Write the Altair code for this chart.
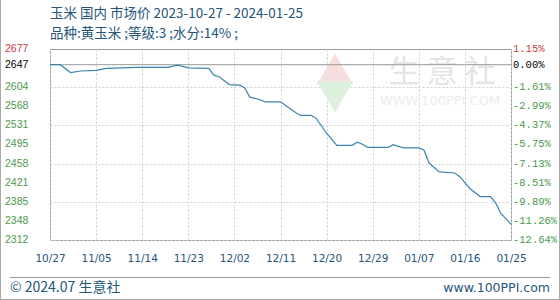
import altair as alt
import pandas as pd

# ---------------- data ----------------
dates = ["2023-10-27", "2023-10-29", "2023-10-31", "2023-11-02", "2023-11-05",
         "2023-11-07", "2023-11-13", "2023-11-19", "2023-11-21", "2023-11-23",
         "2023-11-27", "2023-11-28", "2023-11-29", "2023-12-01", "2023-12-03",
         "2023-12-04", "2023-12-05", "2023-12-07", "2023-12-08", "2023-12-11",
         "2023-12-12", "2023-12-14", "2023-12-15", "2023-12-17", "2023-12-18",
         "2023-12-20", "2023-12-22", "2023-12-25", "2023-12-26", "2023-12-27",
         "2023-12-28", "2024-01-01", "2024-01-02", "2024-01-04", "2024-01-07",
         "2024-01-08", "2024-01-09", "2024-01-11", "2024-01-14", "2024-01-15",
         "2024-01-17", "2024-01-19", "2024-01-21", "2024-01-22", "2024-01-23",
         "2024-01-24", "2024-01-25"]
prices = [2647, 2647, 2632, 2635, 2636,
          2640, 2642, 2642, 2646, 2641,
          2640, 2627, 2624, 2609, 2608,
          2603, 2585, 2580, 2576, 2576,
          2569, 2555, 2550, 2550, 2544,
          2516, 2493, 2493, 2499, 2495,
          2489, 2489, 2494, 2488, 2488,
          2484, 2459, 2442, 2440, 2433,
          2410, 2395, 2395, 2383, 2363,
          2353, 2342]

tick_dates = ["2023-10-27", "2023-11-05", "2023-11-14", "2023-11-23", "2023-12-02",
              "2023-12-11", "2023-12-20", "2023-12-29", "2024-01-07", "2024-01-16",
              "2024-01-25"]
left_ticks = [2677, 2647, 2604, 2568, 2531, 2495, 2458, 2421, 2385, 2348, 2312]
right_labels = ["1.15%", "0.00%", "-1.61%", "-2.99%", "-4.37%", "-5.75%",
                "-7.13%", "-8.51%", "-9.89%", "-11.26%", "-12.64%"]
base_price = 2647
title_lines = ["玉米 国内 市场价 2023-10-27 - 2024-01-25",
               "品种:黄玉米 ;等级:3 ;水分:14% ;"]
footer_left = "© 2024.07 生意社"
footer_right = "www.100PPI.com"
wm_main = "生 意 社"
wm_url = "WWW.100PPI.COM"

# ---------------- styles ----------------
BLUE_TXT = "#245579"
LINE = "#3b84ad"
GREEN = "#4a9a4a"
RED = "#c83c3c"
GRID = "#cfcfcf"
BORDER = "#999999"
CJK = "Noto Sans CJK SC"

W, H = 461, 191

tick_ms = [int(pd.Timestamp(d).value // 10**6) for d in tick_dates]
x_scale = alt.Scale(type="utc", domain=[tick_ms[0], tick_ms[-1]])
y_scale = alt.Scale(domain=[left_ticks[-1], left_ticks[0]], nice=False, zero=False)

line_df = pd.DataFrame({"date": dates, "price": prices})
lab_df = pd.DataFrame({"price": left_ticks, "pct": right_labels})

one = alt.Data(values=[{"a": 1}])

# grid + axes via an invisible layer
grid = alt.Chart(line_df).mark_line(opacity=0).encode(
    x=alt.X("date:T", scale=x_scale,
            axis=alt.Axis(values=tick_ms, labelExpr="utcFormat(datum.value, '%m/%d')",
                          title=None, grid=True, gridColor=GRID, gridDash=[2, 2],
                          domain=False, ticks=False, labelFont="DejaVu Sans",
                          labelFontSize=10.5, labelColor=BLUE_TXT, labelPadding=13,
                          labelFlush=False)),
    y=alt.Y("price:Q", scale=y_scale,
            axis=alt.Axis(values=[v for v in left_ticks if v != base_price],
                          title=None, grid=True, gridColor=GRID, gridDash=[2, 2],
                          domain=False, ticks=False, labels=False)),
)

# watermark
wm_roof = alt.Chart(one).mark_point(shape="triangle-up", filled=True, color="#f6dede",
                                    size=1300, opacity=1).encode(
    x=alt.value(285), y=alt.value(20))
wm_base = alt.Chart(one).mark_point(shape="triangle-down", filled=True, color="#ddf0dd",
                                    size=1300, opacity=1).encode(
    x=alt.value(285), y=alt.value(48))
wm_text = alt.Chart(one).mark_text(text=wm_main, font=CJK, fontSize=31, color="#e4e4e4",
                                   align="center", baseline="middle").encode(
    x=alt.value(392), y=alt.value(24))
wm_url_t = alt.Chart(one).mark_text(text=wm_url, font="DejaVu Sans", fontSize=13,
                                    color="#ececec", align="center",
                                    baseline="middle").encode(
    x=alt.value(390), y=alt.value(52))

base_rule = alt.Chart(one).mark_rule(color=BORDER, strokeWidth=1).encode(
    y=alt.datum(base_price, scale=y_scale))

line = alt.Chart(line_df).mark_line(color=LINE, strokeWidth=1.2).encode(
    x=alt.X("date:T", scale=x_scale),
    y=alt.Y("price:Q", scale=y_scale),
)

color_scale = alt.Scale(type="threshold", domain=[base_price - 0.5, base_price + 0.5],
                        range=[GREEN, "black", RED])

left_labels = alt.Chart(lab_df).mark_text(align="left", baseline="middle",
                                          font="Liberation Sans", fontSize=10.5).encode(
    x=alt.value(-45),
    y=alt.Y("price:Q", scale=y_scale),
    text="price:Q",
    color=alt.Color("price:Q", scale=color_scale, legend=None),
)
right_lab = alt.Chart(lab_df).mark_text(align="left", baseline="middle",
                                        font="Liberation Mono", fontSize=10.5).encode(
    x=alt.value(W + 2),
    y=alt.Y("price:Q", scale=y_scale),
    text="pct:N",
    color=alt.Color("price:Q", scale=color_scale, legend=None),
)

title1 = alt.Chart(one).mark_text(text=title_lines[0], font=CJK, fontSize=13.5,
                                  color=BLUE_TXT, align="left", baseline="middle").encode(
    x=alt.value(0), y=alt.value(-35))
title2 = alt.Chart(one).mark_text(text=title_lines[1], font=CJK, fontSize=13.5,
                                  color=BLUE_TXT, align="left", baseline="middle").encode(
    x=alt.value(0), y=alt.value(-15))

foot_rule = alt.Chart(one).mark_rule(color=BORDER, strokeWidth=1).encode(
    x=alt.value(-40), x2=alt.value(500), y=alt.value(228.5))
foot_l = alt.Chart(one).mark_text(text=footer_left, font=CJK, fontSize=14,
                                  color=BLUE_TXT, align="left", baseline="middle").encode(
    x=alt.value(-40), y=alt.value(239))
foot_r = alt.Chart(one).mark_text(text=footer_right, font="DejaVu Sans", fontSize=12.5,
                                  color=BLUE_TXT, align="right", baseline="middle").encode(
    x=alt.value(500), y=alt.value(239))

outer_l = alt.Chart(one).mark_rule(color="#aaaaaa").encode(
    x=alt.value(-49.5), y=alt.value(-49), y2=alt.value(251))
outer_r = alt.Chart(one).mark_rule(color="#aaaaaa").encode(
    x=alt.value(509.5), y=alt.value(-49), y2=alt.value(251))
outer_b = alt.Chart(one).mark_rule(color="#aaaaaa").encode(
    x=alt.value(-50), x2=alt.value(510), y=alt.value(250.5))

chart = alt.layer(
    wm_roof, wm_base, wm_text, wm_url_t, grid, base_rule, line,
    left_labels, right_lab, title1, title2, foot_rule, foot_l, foot_r,
    outer_l, outer_r, outer_b,
).properties(
    width=W, height=H,
    autosize=alt.AutoSizeParams(type="none"),
    padding={"left": 50, "top": 49, "right": 49, "bottom": 60},
    background="white",
).configure_view(stroke=BORDER, strokeWidth=1)

chart.save("out.html", embed_options={"renderer": "svg", "actions": False})
